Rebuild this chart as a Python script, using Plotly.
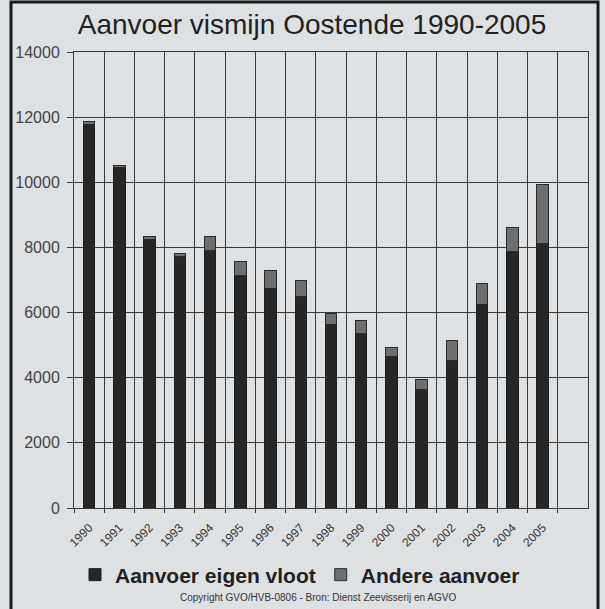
import plotly.graph_objects as go

years = [str(y) for y in range(1990, 2006)]
eigen_vloot = [11770, 10440, 8250, 7720, 7900, 7130, 6750, 6490, 5620, 5370, 4650, 3650, 4520, 6260, 7870, 8130]
totaal = [11870, 10520, 8330, 7800, 8350, 7580, 7280, 6980, 5980, 5770, 4920, 3950, 5130, 6880, 8610, 9940]
andere_aanvoer = [t - e for t, e in zip(totaal, eigen_vloot)]

y_ticks = [0, 2000, 4000, 6000, 8000, 10000, 12000, 14000]

BG = "#dee1e4"
GRID = "#3a3a3a"
FONT = "Liberation Sans, Arial, sans-serif"

fig = go.Figure()
fig.add_trace(go.Bar(
    x=years, y=eigen_vloot, name="Aanvoer eigen vloot",
    marker=dict(color="#272727", line=dict(color="#1e1e1e", width=1)),
))
fig.add_trace(go.Bar(
    x=years, y=andere_aanvoer, name="Andere aanvoer",
    marker=dict(color="#6e6e6e", line=dict(color="#2a2a2a", width=1)),
))

L, R, T, B = 74, 17, 52, 101
W, H = 605, 609
pw, ph = W - L - R, H - T - B

def px_x(x):
    return (x - L) / pw

def px_y(y):
    return (H - B - y) / ph

fig.update_layout(
    width=W, height=H,
    barmode="stack", bargap=0.62,
    paper_bgcolor=BG, plot_bgcolor=BG,
    margin=dict(l=L, r=R, t=T, b=B, autoexpand=False),
    font=dict(family=FONT, color="#333333"),
    title=dict(
        text="Aanvoer vismijn Oostende 1990-2005",
        font=dict(family=FONT, size=28, color="#222222"),
        x=312 / W, xanchor="center", y=1 - 24 / H, yanchor="middle",
    ),
    xaxis=dict(
        type="category", range=[-0.5, 16.5], tickson="boundaries",
        showgrid=True, gridcolor=GRID, gridwidth=1,
        showline=True, linecolor=GRID, linewidth=1, mirror=True,
        ticks="outside", ticklen=4, tickcolor=GRID,
        tickangle=-45, tickfont=dict(size=12, color="#333333"),
        ticklabelstandoff=7,
        fixedrange=True, automargin=False,
    ),
    yaxis=dict(
        range=[0, 14000], tickvals=y_ticks, tickformat="d",
        showgrid=True, gridcolor=GRID, gridwidth=1,
        showline=True, linecolor=GRID, linewidth=1, mirror=True,
        ticks="outside", ticklen=6, tickcolor=GRID,
        tickfont=dict(size=16, color="#444444"), ticklabelstandoff=4,
        zeroline=False, fixedrange=True, automargin=False,
    ),
    legend=dict(
        orientation="h", x=px_x(300), xanchor="center",
        y=px_y(575), yanchor="middle",
        font=dict(family=FONT, size=21, color="#222222", weight="bold"),
        bgcolor="rgba(0,0,0,0)", traceorder="normal",
        itemwidth=30,
    ),
    annotations=[dict(
        text="Copyright GVO/HVB-0806 - Bron: Dienst Zeevisserij en AGVO",
        xref="paper", yref="paper", x=px_x(318), y=px_y(597),
        xanchor="center", yanchor="middle", showarrow=False,
        font=dict(family=FONT, size=10, color="#333333"),
    )],
    shapes=[dict(
        type="rect", xref="paper", yref="paper",
        x0=px_x(11), x1=px_x(598), y0=px_y(2), y1=px_y(620),
        line=dict(color="#1a1a1a", width=3), fillcolor="rgba(0,0,0,0)",
        layer="above",
    )],
)

fig.write_html(
    "out.html",
    config={"displayModeBar": False},
    post_script=(
        "document.body.style.margin='0';"
        "document.body.style.background='" + BG + "';"
        "document.documentElement.style.overflow='hidden';"
    ),
)
